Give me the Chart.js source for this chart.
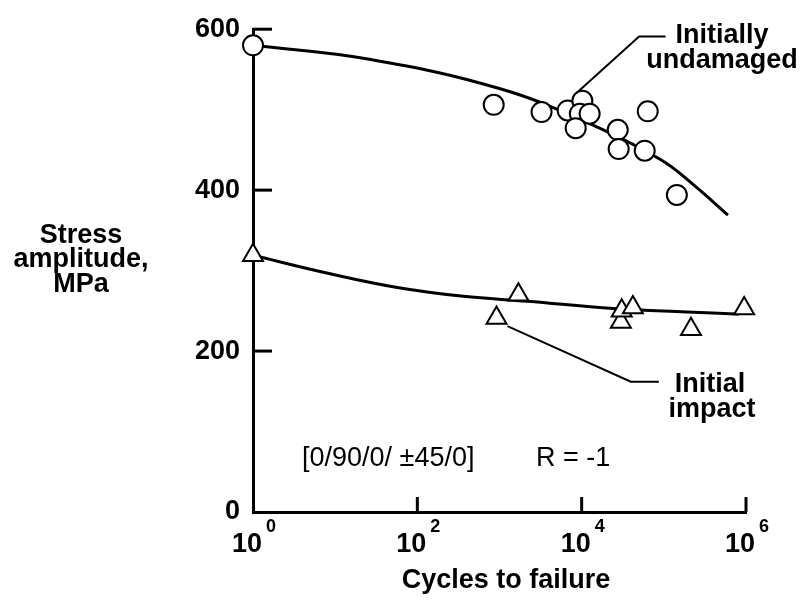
<!DOCTYPE html>
<html>
<head>
  <title>Stress amplitude vs cycles to failure</title>
  <script src="https://cdn.jsdelivr.net/npm/chart.js"></script>
  <style>
    body {
      margin: 0;
      background: #fff;
    }
    #chart {
      display: block;
    }
  </style>
</head>
<body>
  <canvas id="chart" width="803" height="600"></canvas>

  <script>
    // Initially undamaged specimens (circles)
    const undamagedCycles = [1, 850, 3250, 6760, 10200, 9500, 12500, 8460, 27500, 28200, 58500, 63700, 144000];
    const undamagedStress = [580, 506, 497, 499, 511, 495, 495, 477, 475, 451, 449, 498, 394];

    // Specimens with initial impact (triangles)
    const impactCycles = [1, 920, 1700, 30000, 30700, 42000, 214000, 950000];
    const impactStress = [319, 241, 270, 236, 250, 254, 227, 253];

    // Fitted curves
    const undamagedFitCycles = [1, 25, 1020, 12900, 91000, 234000, 603000];
    const undamagedFitStress = [580, 563, 526, 482, 438, 406, 369];
    const impactFitCycles = [1, 8.7, 57, 363, 2190, 24500, 820000];
    const impactFitStress = [319, 296, 279, 268, 262, 253, 246];

    // Leader lines from the labels to the data
    const undamagedLeaderCycles = [9150, 50000, 105000];
    const undamagedLeaderStress = [523, 591, 591];
    const impactLeaderCycles = [1250, 39600, 87000];
    const impactLeaderStress = [231, 162, 162];

    // Axis ticks
    const xTickExponents = [0, 2, 4, 6];
    const yTicks = [0, 200, 400, 600];

    const family = '"Liberation Sans", Arial, Helvetica, sans-serif';
    const bold = size => 'bold ' + size + 'px ' + family;

    function points(xs, ys) {
      return xs.map((x, i) => ({ x: x, y: ys[i] }));
    }

    function lineSet(xs, ys, width, tension) {
      return {
        type: 'line',
        data: points(xs, ys),
        borderColor: '#000',
        borderWidth: width,
        pointRadius: 0,
        fill: false,
        tension: tension,
        clip: false,
        order: 2
      };
    }

    // inward tick marks, x labels with exponents, titles and notes
    const decor = {
      id: 'decor',
      beforeDatasetsDraw(chart) {
        const { ctx, scales: { x, y } } = chart;
        ctx.save();
        ctx.strokeStyle = '#000';
        ctx.lineWidth = 3;
        yTicks.slice(1).forEach(v => {
          const py = y.getPixelForValue(v);
          ctx.beginPath();
          ctx.moveTo(x.left, py);
          ctx.lineTo(x.left + 19, py);
          ctx.stroke();
        });
        xTickExponents.slice(1).forEach(e => {
          const px = x.getPixelForValue(Math.pow(10, e));
          ctx.beginPath();
          ctx.moveTo(px, y.bottom);
          ctx.lineTo(px, y.bottom - 15);
          ctx.stroke();
        });
        ctx.restore();
      },
      afterDraw(chart) {
        const { ctx, scales: { x } } = chart;
        ctx.save();
        ctx.fillStyle = '#000';
        ctx.textBaseline = 'alphabetic';

        // x tick labels: 10 with superscript
        xTickExponents.forEach(e => {
          const px = x.getPixelForValue(Math.pow(10, e));
          ctx.textAlign = 'left';
          ctx.font = bold(27);
          ctx.fillText('10', px - 21, 552);
          ctx.font = bold(18);
          ctx.fillText(String(e), px + 13, 532);
        });

        ctx.textAlign = 'center';
        ctx.font = bold(27);
        ctx.fillText('Cycles to failure', 506, 588);

        ctx.fillText('Stress', 81, 243);
        ctx.fillText('amplitude,', 81, 267);
        ctx.fillText('MPa', 81, 292);

        ctx.fillText('Initially', 722, 43);
        ctx.fillText('undamaged', 722, 68);
        ctx.fillText('Initial', 710, 392);
        ctx.fillText('impact', 712, 417);

        ctx.textAlign = 'left';
        ctx.font = '27px ' + family;
        ctx.fillText('[0/90/0/ \u00b145/0]', 302, 466);
        ctx.fillText('R = -1', 536, 466);
        ctx.restore();
      }
    };

    const ctx = document.getElementById('chart').getContext('2d');
    new Chart(ctx, {
      type: 'scatter',
      data: {
        datasets: [
          {
            label: 'Initially undamaged',
            data: points(undamagedCycles, undamagedStress),
            pointStyle: 'circle',
            pointRadius: 10,
            pointBorderWidth: 2,
            borderColor: '#000',
            backgroundColor: '#fff',
            clip: false,
            order: 1
          },
          {
            label: 'Initial impact',
            data: points(impactCycles, impactStress),
            pointStyle: 'triangle',
            pointRadius: 11.5,
            pointBorderWidth: 2,
            borderColor: '#000',
            backgroundColor: '#fff',
            clip: false,
            order: 1
          },
          lineSet(undamagedFitCycles, undamagedFitStress, 3, 0.4),
          lineSet(impactFitCycles, impactFitStress, 3, 0.4),
          lineSet(undamagedLeaderCycles, undamagedLeaderStress, 2, 0),
          lineSet(impactLeaderCycles, impactLeaderStress, 2, 0)
        ]
      },
      options: {
        responsive: false,
        animation: false,
        events: [],
        layout: { padding: { top: 26, right: 57, left: 0, bottom: 0 } },
        plugins: {
          legend: { display: false },
          tooltip: { enabled: false }
        },
        scales: {
          x: {
            type: 'logarithmic',
            min: 1,
            max: 1e6,
            afterBuildTicks: s => { s.ticks = xTickExponents.map(e => ({ value: Math.pow(10, e) })); },
            afterFit: s => { s.height = 88; },
            ticks: { display: false },
            grid: { display: false, drawTicks: false },
            border: { display: true, color: '#000', width: 3 }
          },
          y: {
            min: 0,
            max: 600,
            afterBuildTicks: s => { s.ticks = yTicks.map(v => ({ value: v })); },
            afterFit: s => { s.width = 253; },
            ticks: {
              color: '#000',
              padding: 13,
              font: { family: family, size: 27, weight: 'bold' }
            },
            grid: { display: false, drawTicks: false },
            border: { display: true, color: '#000', width: 3 }
          }
        }
      },
      plugins: [decor]
    });
  </script>
</body>
</html>
